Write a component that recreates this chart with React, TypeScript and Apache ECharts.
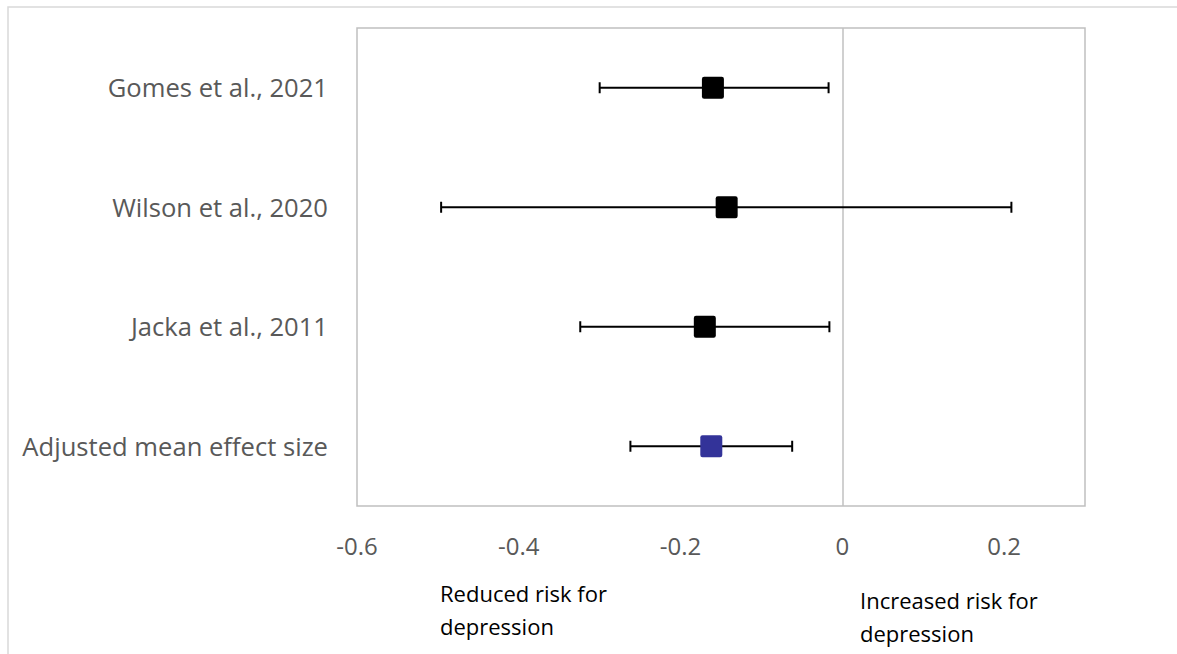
import React, { useEffect, useRef } from "react";
import * as echarts from "echarts";

const studies = ["Gomes et al., 2021", "Wilson et al., 2020", "Jacka et al., 2011", "Adjusted mean effect size"];
const effects = [-0.16, -0.143, -0.17, -0.162];
const lowers = [-0.3, -0.496, -0.324, -0.262];
const uppers = [-0.017, 0.209, -0.016, -0.062];
const markerColors = ["#000000", "#000000", "#000000", "#333399"];
const xTicks = { min: -0.6, max: 0.3, interval: 0.2 };

export default function App() {
  const ref = useRef<HTMLDivElement>(null);
  useEffect(() => {
    document.body.style.margin = "0";
    const chart = echarts.init(ref.current!, null, { renderer: "svg" });
    const font = "'Open Sans', 'Noto Sans', sans-serif";
    chart.setOption({
      animation: false,
      backgroundColor: "#ffffff",
      grid: { left: 357, right: 92, top: 28, bottom: 148, show: true, borderColor: "#c0c0c0", borderWidth: 1.5 },
      xAxis: {
        type: "value",
        min: xTicks.min,
        max: xTicks.max,
        interval: xTicks.interval,
        axisLine: { show: false },
        axisTick: { show: false },
        splitLine: { show: false },
        axisLabel: {
          showMaxLabel: false,
          color: "#595959",
          fontSize: 24,
          fontFamily: font,
          margin: 27,
          formatter: (v: number) => {
            const r = Math.round(v * 10) / 10;
            return r === 0 ? "0" : String(r);
          },
        },
      },
      yAxis: {
        type: "category",
        data: studies,
        inverse: true,
        axisLine: { show: false },
        axisTick: { show: false },
        splitLine: { show: false },
        axisLabel: { color: "#595959", fontSize: 25.6, fontFamily: font, margin: 29 },
      },
      graphic: [
        {
          type: "rect",
          shape: { x: 8, y: 7, width: 1300, height: 800 },
          style: { fill: "none", stroke: "#d9d9d9", lineWidth: 1.5 },
          silent: true,
          z: -10,
        },
        {
          type: "text",
          left: 440,
          top: 576,
          style: { text: "Reduced risk for\ndepression", fill: "#000000", fontSize: 22, lineHeight: 33, fontFamily: font },
        },
        {
          type: "text",
          left: 860,
          top: 583,
          style: { text: "Increased risk for\ndepression", fill: "#000000", fontSize: 22, lineHeight: 33, fontFamily: font },
        },
      ],
      series: [
        {
          type: "custom",
          silent: true,
          data: studies.map((_, i) => [lowers[i], uppers[i], i]),
          encode: { x: [0, 1], y: 2 },
          renderItem: (params: any, api: any) => {
            const lo = api.coord([api.value(0), api.value(2)]);
            const hi = api.coord([api.value(1), api.value(2)]);
            const h = 5.5;
            const st = { stroke: "#000000", lineWidth: 2 };
            return {
              type: "group",
              children: [
                { type: "line", shape: { x1: lo[0], y1: lo[1], x2: hi[0], y2: hi[1] }, style: st },
                { type: "line", shape: { x1: lo[0], y1: lo[1] - h, x2: lo[0], y2: lo[1] + h }, style: st },
                { type: "line", shape: { x1: hi[0], y1: hi[1] - h, x2: hi[0], y2: hi[1] + h }, style: st },
              ],
            };
          },
          z: 2,
        },
        {
          type: "scatter",
          data: effects.map((v, i) => ({ value: [v, i], itemStyle: { color: markerColors[i], opacity: 1 } })),
          symbol: "path://M2,0 H18 Q20,0 20,2 V18 Q20,20 18,20 H2 Q0,20 0,18 V2 Q0,0 2,0 Z",
          symbolSize: 22,
          itemStyle: { opacity: 1 },
          z: 3,
          markLine: {
            silent: true,
            symbol: "none",
            label: { show: false },
            lineStyle: { color: "#c0c0c0", width: 1.5, type: "solid" },
            data: [{ xAxis: 0 }],
            z: 1,
          },
        },
      ],
    });
    return () => chart.dispose();
  }, []);
  return <div ref={ref} style={{ width: 1177, height: 654 }} />;
}
